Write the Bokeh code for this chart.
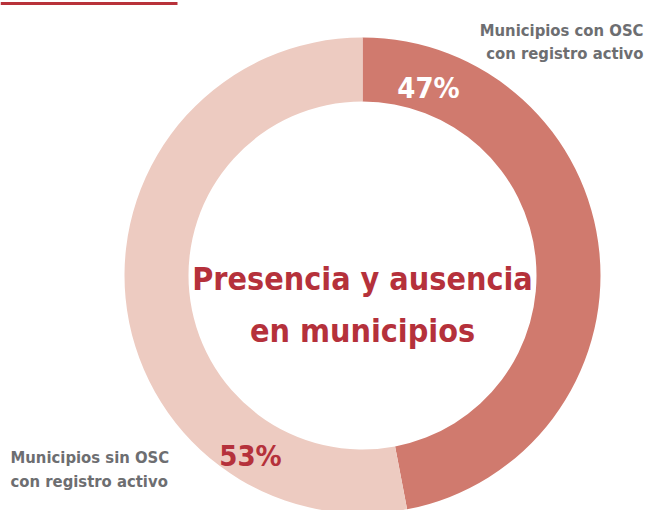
import math
from bokeh.plotting import figure
from bokeh.models import Range1d, ColumnDataSource
from bokeh.core.properties import value
from bokeh.embed import file_html
from bokeh.resources import INLINE

# ---- data ----
categories = ["Municipios con OSC\ncon registro activo", "Municipios sin OSC\ncon registro activo"]
shares = [47, 53]
pct_labels = ["47%", "53%"]
slice_colors = ["#d07a6e", "#edcbc1"]
title_lines = ["Presencia y ausencia", "en municipios"]

W, H = 651, 510
FONT = "DejaVu Sans Condensed"

p = figure(width=W, height=H, output_backend="svg", toolbar_location=None,
           x_range=Range1d(0, W), y_range=Range1d(0, H), min_border=0)
p.axis.visible = False
p.grid.visible = False
p.outline_line_color = None
p.background_fill_color = "white"

cx, cy = 362, H - 275
r_out, r_in = 238, 174

total = sum(shares)
starts, ends = [], []
acc = 0.0
for s in shares:
    a0 = math.pi / 2 - 2 * math.pi * acc / total
    a1 = math.pi / 2 - 2 * math.pi * (acc + s) / total
    starts.append(a1)
    ends.append(a0)
    acc += s

src = ColumnDataSource(dict(start=starts, end=ends, color=slice_colors))
p.annular_wedge(x=cx, y=cy, inner_radius=r_in, outer_radius=r_out,
                start_angle="start", end_angle="end", color="color",
                line_color=None, source=src)

p.segment(x0=0, y0=H - 3, x1=177, y1=H - 3, line_color="#b8323a", line_width=3)

p.text(x=[cx, cx], y=[H - 278, H - 330], text=title_lines,
       text_font=value(FONT), text_font_style="bold", text_font_size="32px",
       text_color="#b5313b", text_align="center", text_baseline="alphabetic")

p.text(x=[428], y=[H - 87], text=[pct_labels[0]], text_font=value(FONT),
       text_font_style="bold", text_font_size="29px", text_color="white",
       text_align="center", text_baseline="alphabetic")
p.text(x=[250], y=[H - 455], text=[pct_labels[1]], text_font=value(FONT),
       text_font_style="bold", text_font_size="29px", text_color="#b5313b",
       text_align="center", text_baseline="alphabetic")

top_lines = categories[0].split("\n")
bot_lines = categories[1].split("\n")
p.text(x=[643, 643], y=[H - 30, H - 53], text=top_lines, text_font=value(FONT),
       text_font_style="bold", text_font_size="16.5px", text_color="#6d6e71",
       text_align="right", text_baseline="alphabetic")
p.text(x=[10, 10], y=[H - 457, H - 481], text=bot_lines, text_font=value(FONT),
       text_font_style="bold", text_font_size="16.5px", text_color="#6d6e71",
       text_align="left", text_baseline="alphabetic")

open("out.html", "w").write(file_html(p, INLINE))
